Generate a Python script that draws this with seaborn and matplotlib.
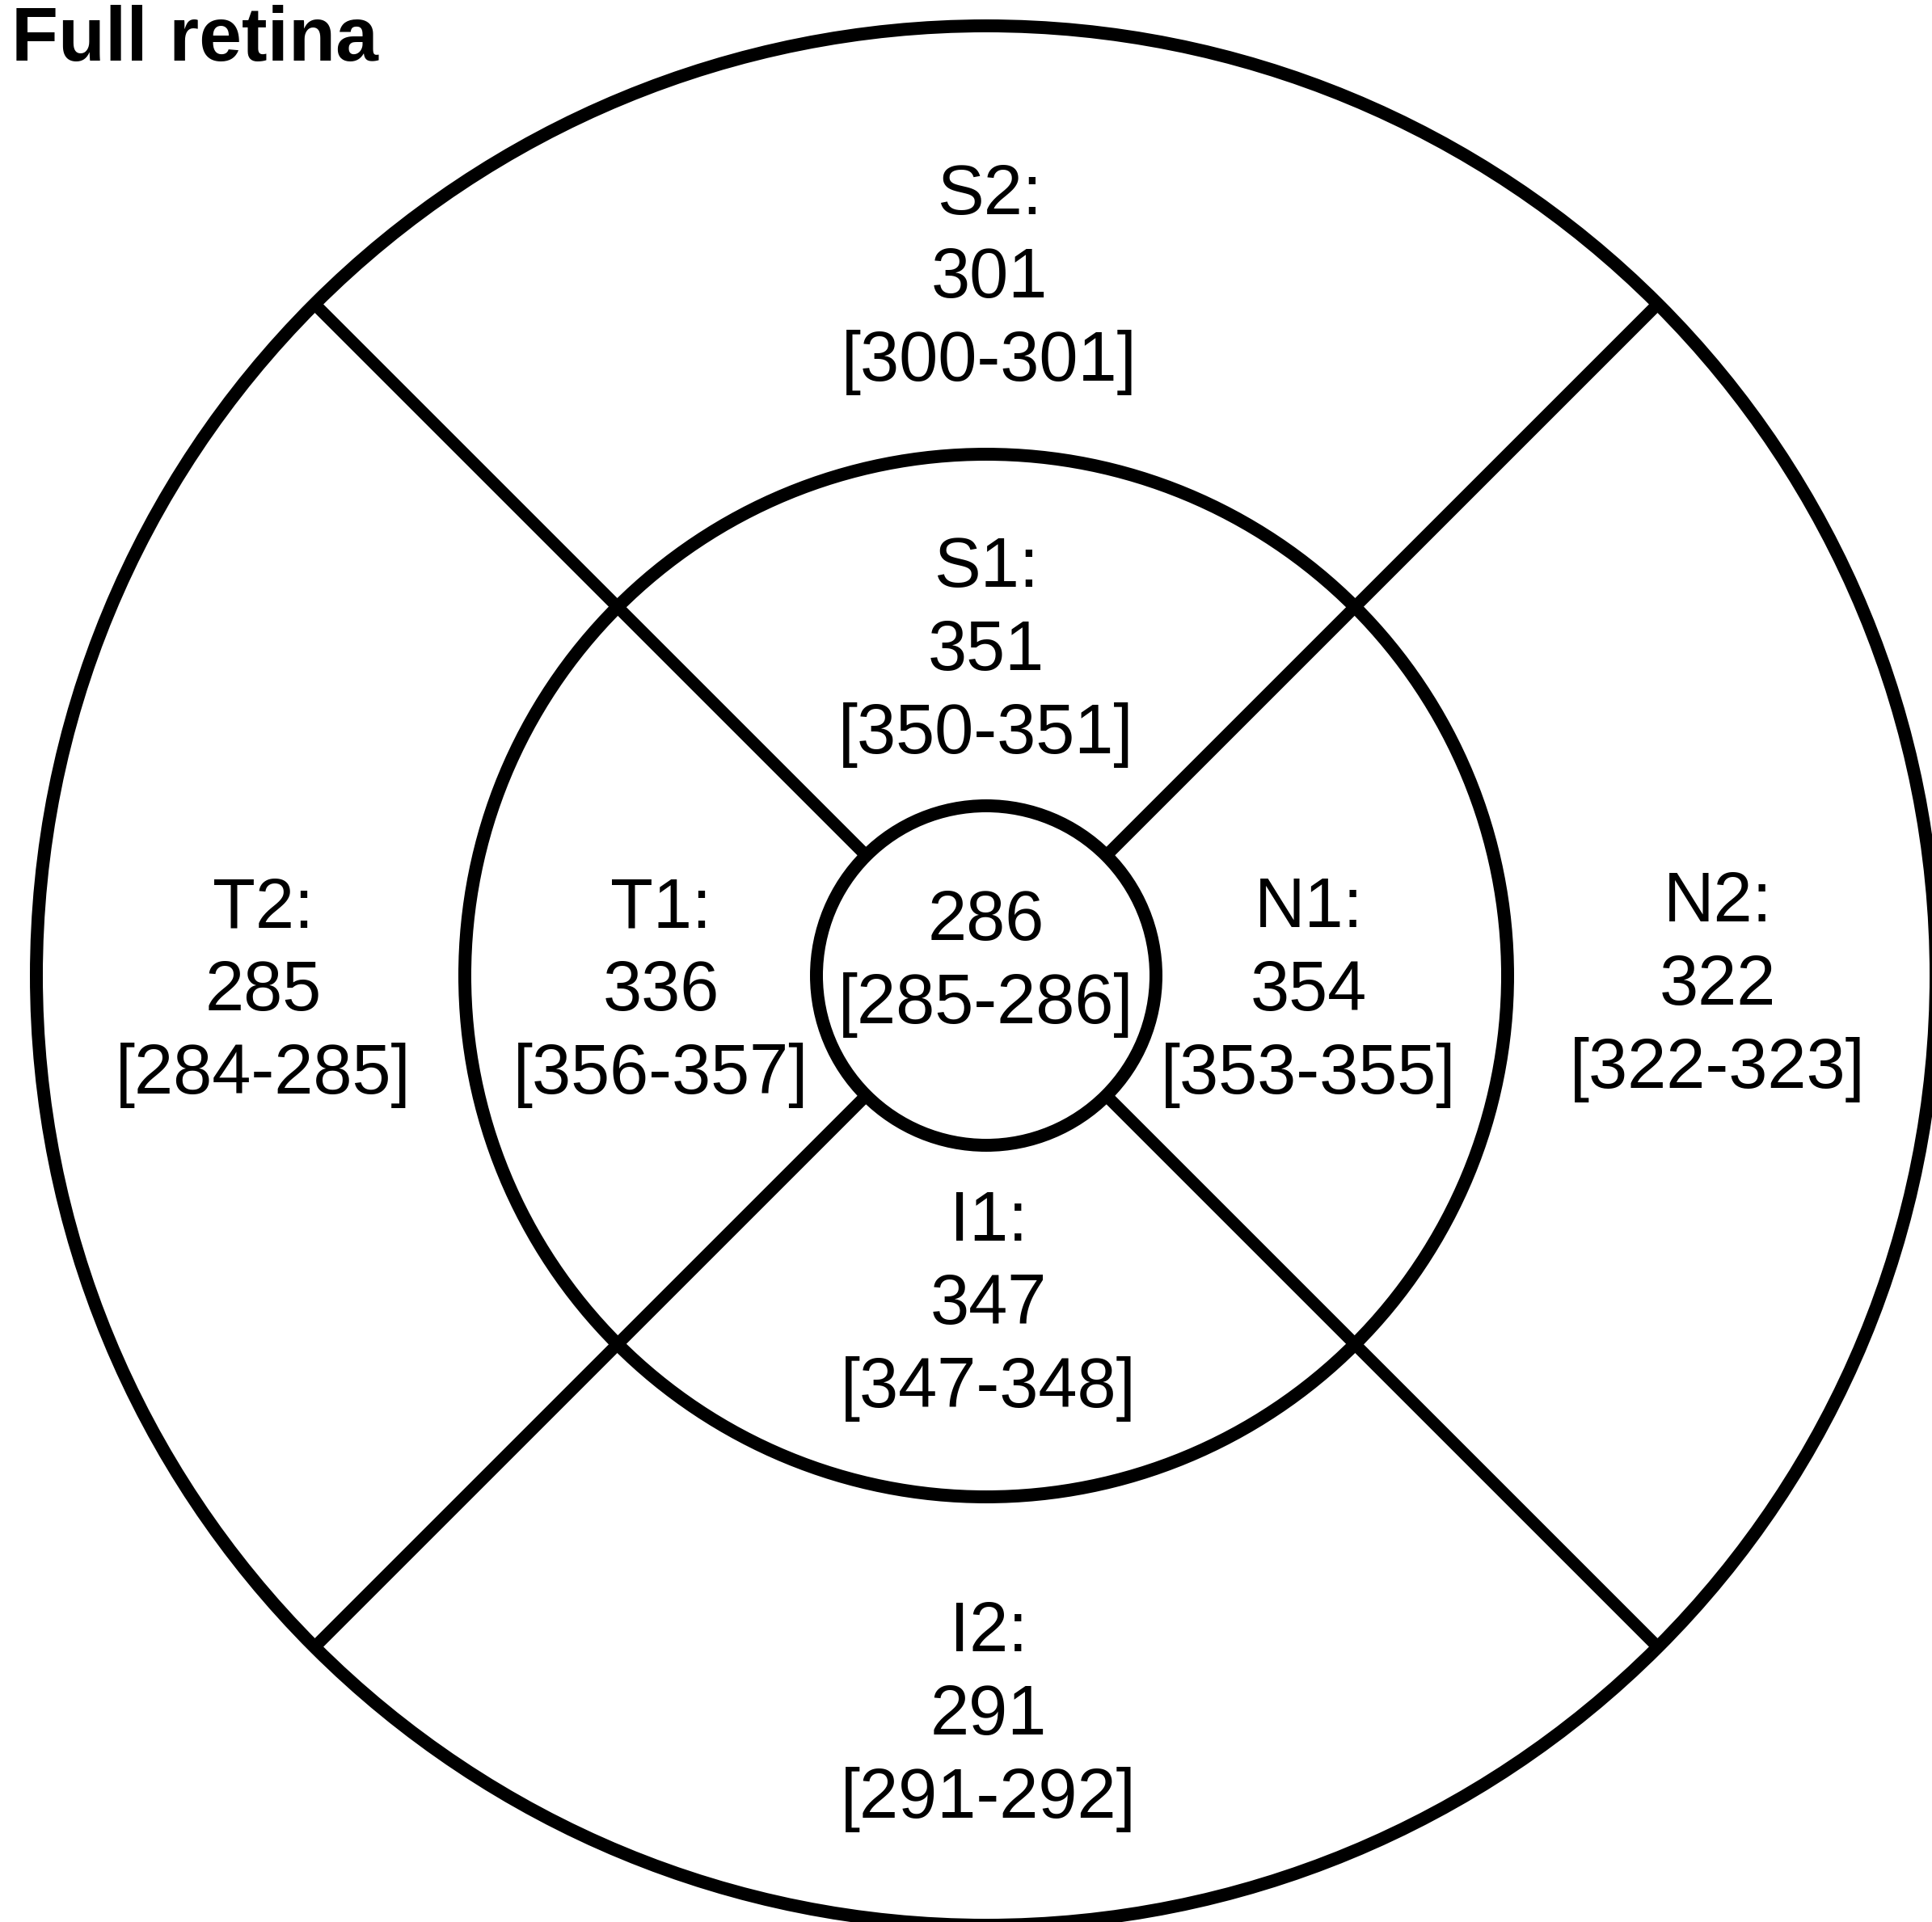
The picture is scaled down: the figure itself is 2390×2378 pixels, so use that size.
import numpy as np
import pandas as pd
import seaborn as sns
import matplotlib.pyplot as plt
from matplotlib.patches import Circle

# sector thickness values (um) with 95% CI
regions = ["S2", "S1", "T2", "T1", "N1", "N2", "I1", "I2"]
means = [301, 351, 285, 336, 354, 322, 347, 291]
ci_low = [300, 350, 284, 356, 353, 322, 347, 291]
ci_high = [301, 351, 285, 357, 355, 323, 348, 292]
center_mean = 286
center_ci = (285, 286)
title = "Full retina"

# layout (pixels, y down)
cx, cy = 1220, 1207
radii = [210, 645, 1175]
label_pos = {
    "S2": (1224, 368), "S1": (1220, 829),
    "T2": (326, 1250), "T1": (818, 1250),
    "N1": (1619, 1250), "N2": (2125, 1243),
    "I1": (1223, 1638), "I2": (1223, 2146),
}
line_gap = 103

sns.set_theme(style="white")
plt.rcParams['font.family'] = ['Liberation Sans', 'DejaVu Sans']
plt.rcParams['text.color'] = 'black'

fig = plt.figure(figsize=(23.9, 23.78), dpi=100)
ax = fig.add_axes([0, 0, 1, 1])

for r in radii:
    ax.add_patch(Circle((cx, cy), r, fill=False, edgecolor='black', lw=11.5))

# diagonal spokes between inner and outer circle
ang = np.deg2rad([45, 135, 225, 315])
spokes = pd.DataFrame({
    'spoke': np.repeat(np.arange(4), 2),
    'x': np.concatenate([[cx + radii[0] * np.cos(a), cx + radii[2] * np.cos(a)] for a in ang]),
    'y': np.concatenate([[cy - radii[0] * np.sin(a), cy - radii[2] * np.sin(a)] for a in ang]),
})
sns.lineplot(data=spokes, x='x', y='y', units='spoke', estimator=None, sort=False,
             color='black', lw=10.8, solid_capstyle='butt', ax=ax, legend=False)
ax.set_xlim(0, 2390)
ax.set_ylim(2378, 0)
ax.axis('off')

fs = 62.3
for reg, m, lo, hi in zip(regions, means, ci_low, ci_high):
    x, yb = label_pos[reg]
    for k, s in enumerate([f"{reg}:", f"{m}", f"[{lo}-{hi}]"]):
        ax.text(x, yb + (k - 1) * line_gap, s, ha='center', va='baseline',
                fontsize=fs, color='black')

ax.text(1220, 1163, f"{center_mean}", ha='center', va='baseline', fontsize=fs, color='black')
ax.text(1220, 1163 + line_gap, f"[{center_ci[0]}-{center_ci[1]}]", ha='center',
        va='baseline', fontsize=fs, color='black')

ax.text(14, 75, title, ha='left', va='baseline', fontsize=68.4,
        fontweight='bold', color='black')

fig.savefig("out.png", dpi=100)
